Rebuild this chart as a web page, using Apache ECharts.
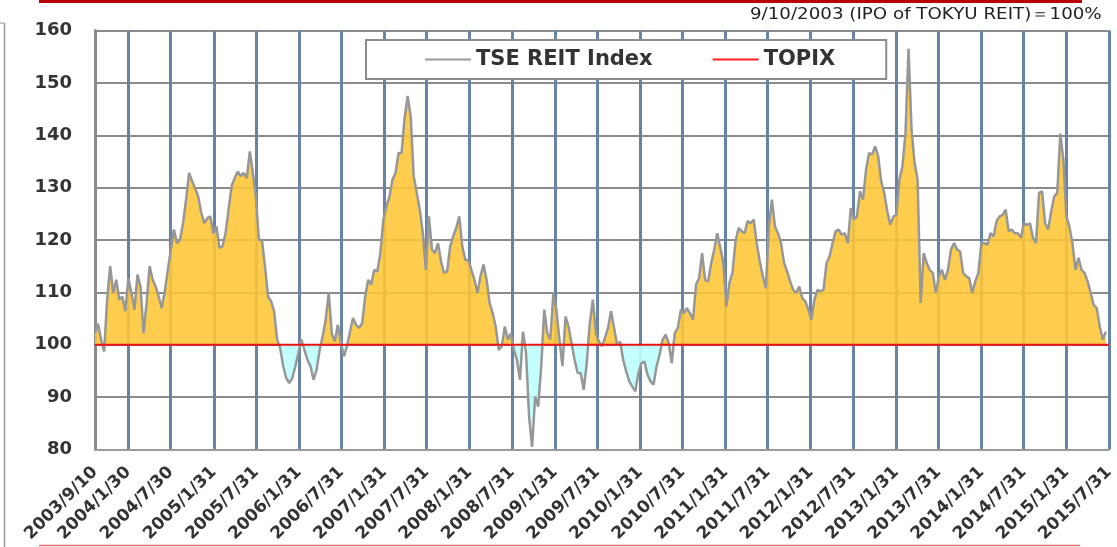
<!DOCTYPE html>
<html><head><meta charset="utf-8">
<script src="https://cdn.jsdelivr.net/npm/echarts@6/dist/echarts.min.js"></script>
<style>html,body{margin:0;padding:0;background:#fff}#c{width:1117px;height:547px}</style>
</head><body><div id="c"></div>
<script>
// ---- data ----
const startDate = [2003, 9, 10];   // first observation (IPO of TOKYU REIT = 100)
const stepDays = 13;               // spacing of the sampled observations
const reitIndex = [
102.2,104,101,98.7,108.6,115,109.9,112.4,108.6,109.2,
106.4,112.7,109.9,106.7,113.4,111.1,102.2,108,115,112.4,
111.1,109.2,107,110.2,114.3,118.2,122,119.4,120,123.2,
127.7,132.8,131.2,129.9,128.3,125.2,123.2,124.2,124.5,121.3,
122.6,118.5,118.8,121.3,125.8,130.3,131.8,133.1,132.2,132.8,
131.8,136.9,132.8,128.3,120,120,115,109.2,108.3,106.4,
101,99.4,95.9,93.6,92.7,93.6,95.9,98.4,101,
99,97.1,95.9,93.3,95.2,99,101.6,104.8,109.9,102.2,
100.6,103.8,100.3,97.8,99.7,102.5,105.1,103.8,103.2,104.1,
109.2,112.4,111.5,114.3,114,117.5,123.9,126.4,128.3,131.5,
132.8,136.6,136.6,143.3,147.5,143.6,132.2,129,125.8,121.3,
114.3,124.5,118.2,117.5,119.4,115.9,113.7,114,118.8,120.7,
122.3,124.5,118.8,116.2,116.2,114.3,112.4,109.9,113.1,115.3,
112.4,108,106,103.5,99,99.7,
103.5,101,102.2,99,97.1,93.3,102.5,98.4,86.3,80.5,
90.1,88.2,95.9,106.7,102.2,101,109.9,106.7,101,95.9,
105.4,103.5,100.3,97.1,94.6,94.6,91.4,96.5,104.1,108.6,
102.2,100.6,99.7,101.3,103.2,106.4,103.2,100,100.6,97.1,
94.9,93,92,91.1,94.6,96.5,96.8,94.3,93,92.4,
95.9,98.1,101,101.9,100.3,96.5,102.2,103.2,106.7,106,
107,106,104.8,111.5,112.7,117.5,
112.4,112.1,115.6,118.2,121.3,118.5,115.6,107.3,111.8,113.7,
119.7,122.3,121.7,121.3,123.6,123.2,123.9,119.4,115.9,113.1,
110.8,122.6,127.7,122.6,121.3,119.4,115.6,114,112.1,110.5,
109.9,111.1,108.9,108.3,106.7,104.8,108.6,110.5,110.2,110.5,
115.6,116.9,119.4,121.7,122,121,121.3,119.4,126.1,123.9,
124.5,129.3,127.7,133.4,136.6,136.3,137.9,136,131.2,129,
125.5,122.9,124.5,124.8,131.5,
134.1,140.4,156.5,141.1,134.7,131.5,108,117.5,115.6,114.3,
113.7,109.9,113.1,114.3,112.4,114.3,118.2,119.4,118.2,117.8,
113.7,113.1,112.7,109.9,112.1,113.7,119.4,119.4,119.1,121.3,
120.7,123.6,124.5,124.8,125.8,121.7,122,121.3,121.3,120.4,
123.2,122.9,123.2,120.4,119.4,129,129.3,123.2,122,125.5,
128.3,129,140.3,135.4,124.5,122.6,119.4,114.3,116.6,114.3,
113.7,112.1,109.9,107.6,107,103.5,101,102.5
];
const topixLevel = 100;
const tickLabels = ['2003/9/10','2004/1/30','2004/7/30','2005/1/31','2005/7/31','2006/1/31','2006/7/31',
'2007/1/31','2007/7/31','2008/1/31','2008/7/31','2009/1/31','2009/7/31','2010/1/31','2010/7/31',
'2011/1/31','2011/7/31','2012/1/31','2012/7/31','2013/1/31','2013/7/31','2014/1/31','2014/7/31',
'2015/1/31','2015/7/31'];
const yMin = 80, yMax = 160, yStep = 10;
const legendNames = ['TSE REIT Index', 'TOPIX'];
const noteText = '9/10/2003 (IPO of TOKYU REIT)＝100%';

// ---- build (x = days since the first observation) ----
const DAY = 86400000;
const t0 = Date.UTC(startDate[0], startDate[1] - 1, startDate[2]);
function toDay(s) { const p = s.split('/').map(Number); return Math.round((Date.UTC(p[0], p[1] - 1, p[2]) - t0) / DAY); }
const tickDays = tickLabels.map(toDay);
const days = reitIndex.map((v, i) => stepDays * i);
const linePts = reitIndex.map((v, i) => [days[i], v]);
const upPts = reitIndex.map((v, i) => [days[i], Math.max(v, topixLevel)]);
const downPts = reitIndex.map((v, i) => [days[i], Math.min(v, topixLevel)]);
const xMin = tickDays[0], xMax = tickDays[tickDays.length - 1];
const topixPts = [[xMin, topixLevel], [xMax, topixLevel]];

const chart = echarts.init(document.getElementById('c'), null, { renderer: 'canvas' });
chart.setOption({
  animation: false,
  backgroundColor: '#ffffff',
  grid: { left: 95, right: 5, top: 30.5, bottom: 97.5, containLabel: false },
  legend: {
    data: [{ name: legendNames[0], icon: 'rect' }, { name: legendNames[1], icon: 'rect' }],
    left: 366, top: 40,
    padding: [9, 51, 9, 59],
    itemGap: 60, itemWidth: 46, itemHeight: 2,
    borderColor: '#8c8c8c', borderWidth: 2, backgroundColor: '#ffffff',
    textStyle: { fontFamily: 'DejaVu Sans', fontWeight: 'bold', fontSize: 21, color: '#333333' }
  },
  xAxis: {
    type: 'value', min: xMin, max: xMax,
    axisLine: { show: true, onZero: false, lineStyle: { color: '#9a9a9a', width: 2 } },
    axisTick: { show: false, customValues: tickDays },
    axisLabel: {
      customValues: tickDays, rotate: 45, margin: 20, hideOverlap: false,
      fontFamily: 'DejaVu Sans', fontWeight: 'bold', fontSize: 17, color: '#333333',
      formatter: function (val) {
        const i = tickDays.indexOf(Math.round(val));
        return i >= 0 ? tickLabels[i] : '';
      }
    },
    splitLine: { show: true, lineStyle: { color: '#6783a6', width: 3 } }
  },
  yAxis: {
    type: 'value', min: yMin, max: yMax, interval: yStep,
    axisLine: { show: true, lineStyle: { color: '#8a8a8a', width: 3 } },
    axisTick: { show: false },
    axisLabel: { margin: 23, fontFamily: 'DejaVu Sans', fontWeight: 'bold', fontSize: 18, color: '#333333' },
    splitLine: { show: true, lineStyle: { color: '#8c8c8c', width: 2 } }
  },
  series: [
    { name: 'above', type: 'line', data: upPts, showSymbol: false, silent: true, z: 2,
      lineStyle: { width: 0 }, itemStyle: { color: '#ffc83a' },
      areaStyle: { origin: topixLevel, color: 'rgba(255,198,52,0.88)', opacity: 1 } },
    { name: 'below', type: 'line', data: downPts, showSymbol: false, silent: true, z: 2,
      lineStyle: { width: 0 }, itemStyle: { color: '#c4ffff' },
      areaStyle: { origin: topixLevel, color: 'rgba(190,255,255,0.9)', opacity: 1 } },
    { name: legendNames[0], type: 'line', data: linePts, showSymbol: false, z: 3,
      itemStyle: { color: '#999999' }, lineStyle: { color: '#979797', width: 2.5 } },
    { name: legendNames[1], type: 'line', data: topixPts, showSymbol: false, z: 4,
      itemStyle: { color: '#ff2020' }, lineStyle: { color: '#ee1111', width: 2 } }
  ],
  graphic: [
    { type: 'rect', shape: { x: 39, y: 0, width: 1043, height: 3 }, style: { fill: '#b80000' }, silent: true },
    { type: 'line', shape: { x1: 39, y1: 545.5, x2: 1080, y2: 545.5 }, style: { stroke: '#e07070', lineWidth: 1.5 }, silent: true },
    { type: 'line', shape: { x1: 0, y1: 23, x2: 4, y2: 23 }, style: { stroke: '#999', lineWidth: 1 }, silent: true },
    { type: 'line', shape: { x1: 4.5, y1: 23, x2: 4.5, y2: 547 }, style: { stroke: '#999', lineWidth: 1.5 }, silent: true },
    { type: 'text', x: 750, y: 15, scaleX: 1.14,
      style: { text: noteText, font: '16px "DejaVu Sans"', fill: '#222', textVerticalAlign: 'middle' }, silent: true }
  ]
});
</script></body></html>
